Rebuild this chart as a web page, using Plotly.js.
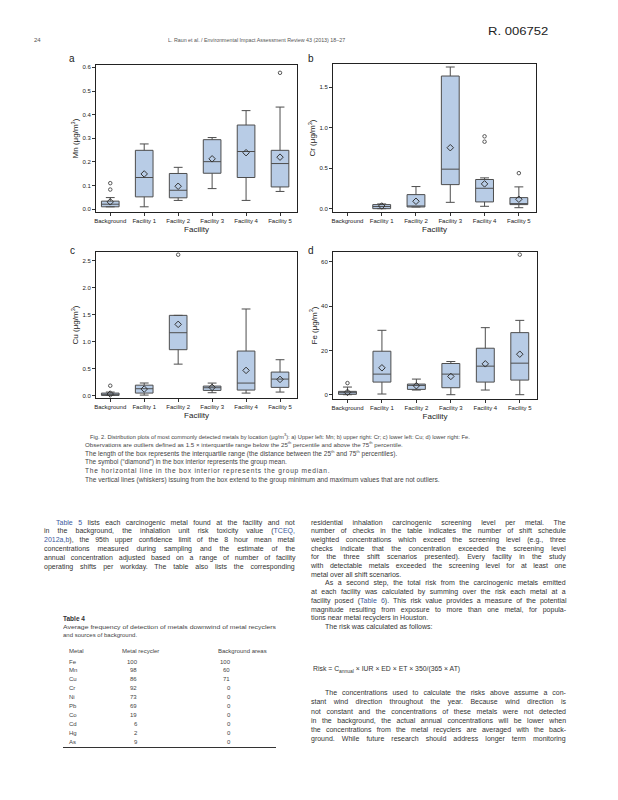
<!DOCTYPE html>
<html><head><meta charset="utf-8">
<script src="https://cdn.plot.ly/plotly-3.0.1.min.js"></script>
<style>
html,body{margin:0;padding:0;background:#fff;}
#page{position:relative;width:618px;height:800px;overflow:hidden;background:#fff;}
#chart{position:absolute;left:0;top:0;width:618px;height:800px;}
#txt{position:absolute;left:0;top:0;width:618px;height:800px;}
.t{position:absolute;white-space:nowrap;font-family:"Liberation Sans",Arial,sans-serif;color:#333;line-height:1.1;transform-origin:0 50%;}
.lk{color:#3d5a9e;}
.b{font-weight:bold;}
.sm{font-size:4px;}
.sb{font-size:5px;}
</style></head><body>
<div id="page"><div id="txt"></div><div id="chart"></div></div>
<script>
// ---------- data ----------
const categories = ['Background','Facility 1','Facility 2','Facility 3','Facility 4','Facility 5'];
const crCategories = ['Facility 1','Facility 2','Facility 3','Facility 4','Facility 5'];

// Mn (panel a)
const mnQ1   = [0.010, 0.052, 0.048, 0.152, 0.134, 0.094];
const mnMed  = [0.021, 0.134, 0.080, 0.201, 0.244, 0.193];
const mnQ3   = [0.034, 0.249, 0.151, 0.294, 0.356, 0.249];
const mnLo   = [0.010, 0.010, 0.037, 0.087, 0.037, 0.075];
const mnHi   = [0.049, 0.276, 0.177, 0.303, 0.417, 0.432];
const mnMean = [0.031, 0.149, 0.097, 0.213, 0.239, 0.220];
const mnOutX = ['Background','Background','Facility 5'];
const mnOutY = [0.110, 0.083, 0.577];

// Cr (panel b)
const crQ1   = [0.004, 0.025, 0.300, 0.087, 0.054];
const crMed  = [0.030, 0.030, 0.490, 0.255, 0.066];
const crQ3   = [0.054, 0.177, 1.636, 0.363, 0.140];
const crLo   = [0.004, 0.025, 0.082, 0.033, 0.016];
const crHi   = [0.062, 0.276, 1.747, 0.383, 0.272];
const crMean = [0.037, 0.095, 0.754, 0.309, 0.120];
const crOutX = ['Facility 4','Facility 4','Facility 5'];
const crOutY = [0.894, 0.828, 0.441];

// Cu (panel c)
const cuQ1   = [0.000, 0.043, 0.848, 0.093, 0.099, 0.149];
const cuMed  = [0.020, 0.124, 1.163, 0.142, 0.229, 0.303];
const cuQ3   = [0.043, 0.190, 1.485, 0.173, 0.823, 0.433];
const cuLo   = [0.000, 0.006, 0.580, 0.050, 0.043, 0.062];
const cuHi   = [0.062, 0.230, 1.485, 0.229, 1.603, 0.662];
const cuMean = [0.025, 0.118, 1.318, 0.149, 0.464, 0.297];
const cuOutX = ['Background','Facility 2'];
const cuOutY = [0.18, 2.61];

// Fe (panel d)
const feQ1   = [0.15, 5.7, 2.4, 3.15, 5.7, 6.6];
const feMed  = [0.9, 9.3, 4.2, 9.3, 12.9, 14.25];
const feQ3   = [1.5, 19.65, 4.8, 14.1, 21.0, 28.05];
const feLo   = [0.0, 0.3, 2.1, 0.0, 2.1, 0.0];
const feHi   = [3.45, 29.1, 7.05, 15.0, 30.3, 33.6];
const feMean = [1.05, 12.15, 4.05, 8.25, 13.95, 18.3];
const feOutX = ['Background','Facility 5'];
const feOutY = [5.25, 63.3];

// Table 4
const tblMetal    = ['Fe','Mn','Cu','Cr','Ni','Pb','Co','Cd','Hg','As'];
const tblRecycler = [100, 98, 86, 92, 73, 69, 19, 6, 2, 9];
const tblBackgr   = [100, 60, 71, 0, 0, 0, 0, 0, 0, 0];

// ---------- chart ----------
const FILL = '#b8cce6', EDGE = '#4d4d4d';
function panel(n, cats, q1, med, q3, lo, hi, mean, ox, oy){
  const xa = n===1?'x':'x'+n, ya = n===1?'y':'y'+n;
  return [
    {type:'box', x:cats, q1:q1, median:med, q3:q3, lowerfence:lo, upperfence:hi,
     xaxis:xa, yaxis:ya, fillcolor:FILL, line:{color:EDGE, width:1},
     whiskerwidth:0.5, width:0.52, boxpoints:false, hoverinfo:'skip', showlegend:false},
    {type:'scatter', mode:'markers', x:cats, y:mean, xaxis:xa, yaxis:ya,
     marker:{symbol:'diamond-open', size:5, color:'#333', line:{width:1}}, hoverinfo:'skip', showlegend:false},
    {type:'scatter', mode:'markers', x:ox, y:oy, xaxis:xa, yaxis:ya,
     marker:{symbol:'circle-open', size:3.5, color:'#555', line:{width:1}}, hoverinfo:'skip', showlegend:false}
  ];
}
const traces = [].concat(
  panel(1, categories, mnQ1, mnMed, mnQ3, mnLo, mnHi, mnMean, mnOutX, mnOutY),
  panel(2, crCategories, crQ1, crMed, crQ3, crLo, crHi, crMean, crOutX, crOutY),
  panel(3, categories, cuQ1, cuMed, cuQ3, cuLo, cuHi, cuMean, cuOutX, cuOutY),
  panel(4, categories, feQ1, feMed, feQ3, feLo, feHi, feMean, feOutX, feOutY)
);
const W=618, H=800;
function xax(l, r, anchor){
  return {domain:[l/W, r/W], anchor:anchor, type:'category', categoryorder:'array', categoryarray:categories,
    range:[-0.42,5.5], showline:true, mirror:true, linecolor:'#222', linewidth:1, ticks:'outside', ticklen:3,
    tickcolor:'#333', tickfont:{size:6, color:'#222'}, showgrid:false, zeroline:false,
    title:{text:'Facility', font:{size:8, color:'#222'}, standoff:3}};
}
function yax(t, b, anchor, range, dtick, fmt, title){
  return {domain:[1-b/H, 1-t/H], anchor:anchor, range:range, dtick:dtick, tickformat:fmt,
    showline:true, mirror:true, linecolor:'#222', linewidth:1, ticks:'outside', ticklen:3, tickcolor:'#333',
    tickfont:{size:6, color:'#222'}, showgrid:false, zeroline:false,
    title:{text:title, font:{size:8, color:'#222'}, standoff:2}};
}
const unit = ' (μg/m<sup>3</sup>)';
const layout = {
  width:W, height:H, margin:{l:0,r:0,t:0,b:0}, paper_bgcolor:'rgba(0,0,0,0)', plot_bgcolor:'rgba(0,0,0,0)',
  font:{family:'"Liberation Sans", Arial, sans-serif', color:'#222'}, showlegend:false, boxmode:'overlay',
  xaxis: xax(96, 297, 'y'),  yaxis: yax(65, 212, 'x',  [-0.012, 0.61], 0.1, '.1f', 'Mn'+unit),
  xaxis2:xax(333, 536, 'y2'), yaxis2:yax(64, 212, 'x2', [-0.037, 1.784], 0.5, '.1f', 'Cr'+unit),
  xaxis3:xax(96, 297, 'y3'), yaxis3:yax(252, 398, 'x3', [-0.048, 2.66], 0.5, '.1f', 'Cu'+unit),
  xaxis4:xax(333, 537, 'y4'), yaxis4:yax(252, 399, 'x4', [-1.95, 64.5], 20, 'd', 'Fe'+unit),
  annotations:[
    {text:'a', x:72/W, y:1-58/H}, {text:'b', x:311/W, y:1-58/H},
    {text:'c', x:72/W, y:1-251/H}, {text:'d', x:311/W, y:1-251/H}
  ].map(a=>Object.assign({xref:'paper', yref:'paper', showarrow:false, xanchor:'center', yanchor:'middle',
     font:{size:10, color:'#222'}}, a))
};
Plotly.newPlot('chart', traces, layout, {staticPlot:true, displayModeBar:false});

// ---------- page text ----------
const txt = document.getElementById('txt');
function place(x, y, w, mode, html, size, cls, color){
  const d = document.createElement('div');
  d.className = 't' + (cls ? ' '+cls : '');
  d.innerHTML = html; d.style.fontSize = size+'px';
  if (color) d.style.color = color;
  txt.appendChild(d);
  let nat = d.scrollWidth;
  if (mode === 'a') {
    const k = Math.max(0.85, Math.min(w/nat, 1.2));
    d.style.fontSize = (size*k) + 'px';
    nat = d.scrollWidth;
    const n = d.textContent.length;
    if (nat < w && n > 1) d.style.letterSpacing = ((w - nat)/n) + 'px';
    else if (nat > w) d.style.transform = 'scaleX(' + (w/nat) + ')';
  }
  const h = d.offsetHeight;
  d.style.top = (y - h/2) + 'px';
  let left = x;
  if (mode === 'j') {
    const sp = (d.textContent.match(/ /g) || []).length;
    if (nat < w && sp > 0) d.style.wordSpacing = ((w - nat)/sp) + 'px';
    else if (nat > w) d.style.transform = 'scaleX(' + (w/nat) + ')';
  } else if (mode === 'f') {
    d.style.transform = 'scaleX(' + (w/nat) + ')';
  } else if (mode === 'r') {
    left = x - nat;
  }
  d.style.left = left + 'px';
}
// header
place(488, 31, 60, 'f', 'R. 006752', 10, '', '#222');
place(34, 40, 7, 'f', '24', 6, '', '#555');
place(168, 40, 177, 'f', 'L. Raun et al. / Environmental Impact Assessment Review 43 (2013) 18–27', 5.5, '', '#555');

// figure caption
const capLines = [
  [90, 436.3, 380, 'Fig. 2. Distribution plots of most commonly detected metals by location (μg/m<sup class="sm">3</sup>): a) Upper left: Mn; b) upper right: Cr; c) lower left: Cu; d) lower right: Fe.'],
  [85, 444.7, 318, 'Observations are outliers defined as 1.5 × interquartile range below the 25<sup class="sm">th</sup> percentile and above the 75<sup class="sm">th</sup> percentile.'],
  [85, 453.3, 312, 'The length of the box represents the interquartile range (the distance between the 25<sup class="sm">th</sup> and 75<sup class="sm">th</sup> percentiles).'],
  [85, 461.6, 202, 'The symbol (“diamond”) in the box interior represents the group mean.'],
  [85, 470.2, 245, 'The horizontal line in the box interior represents the group median.'],
  [85, 479.0, 355, 'The vertical lines (whiskers) issuing from the box extend to the group minimum and maximum values that are not outliers.']
];
capLines.forEach(l => place(l[0], l[1], l[2], 'a', l[3], 5.5, '', '#444'));

// left column body
const leftLines = [
  [56, 239, 'j', '<span class="lk">Table 5</span> lists each carcinogenic metal found at the facility and not'],
  [44, 251, 'j', 'in the background, the inhalation unit risk toxicity value (<span class="lk">TCEQ,</span>'],
  [44, 251, 'j', '<span class="lk">2012a,b</span>), the 95th upper confidence limit of the 8 hour mean metal'],
  [44, 251, 'j', 'concentrations measured during sampling and the estimate of the'],
  [44, 251, 'j', 'annual concentration adjusted based on a range of number of facility'],
  [44, 251, 'j', 'operating shifts per workday. The table also lists the corresponding']
];
leftLines.forEach((l,i) => place(l[0], 522.5 + i*8.85, l[1], l[2], l[3], 7));

// right column body
const rightLines = [
  [311, 255, 'j', 'residential inhalation carcinogenic screening level per metal. The'],
  [311, 255, 'j', 'number of checks in the table indicates the number of shift schedule'],
  [311, 255, 'j', 'weighted concentrations which exceed the screening level (e.g., three'],
  [311, 255, 'j', 'checks indicate that the concentration exceeded the screening level'],
  [311, 255, 'j', 'for the three shift scenarios presented). Every facility in the study'],
  [311, 255, 'j', 'with detectable metals exceeded the screening level for at least one'],
  [311, 0, 'n', 'metal over all shift scenarios.'],
  [325, 241, 'j', 'As a second step, the total risk from the carcinogenic metals emitted'],
  [311, 255, 'j', 'at each facility was calculated by summing over the risk each metal at a'],
  [311, 255, 'j', 'facility posed (<span class="lk">Table 6</span>). This risk value provides a measure of the potential'],
  [311, 255, 'j', 'magnitude resulting from exposure to more than one metal, for popula-'],
  [311, 0, 'n', 'tions near metal recyclers in Houston.'],
  [325, 0, 'n', 'The risk was calculated as follows:']
];
rightLines.forEach((l,i) => place(l[0], 522.5 + i*8.7, l[1], l[2], l[3], 7));

place(313, 670, 147, 'f', 'Risk = C<sub class="sb">annual</sub> × IUR × ED × ET × 350/(365 × AT)', 7);

const lastLines = [
  [325, 241, 'j', 'The concentrations used to calculate the risks above assume a con-'],
  [311, 255, 'j', 'stant wind direction throughout the year. Because wind direction is'],
  [311, 255, 'j', 'not constant and the concentrations of these metals were not detected'],
  [311, 255, 'j', 'in the background, the actual annual concentrations will be lower when'],
  [311, 255, 'j', 'the concentrations from the metal recyclers are averaged with the back-'],
  [311, 255, 'j', 'ground. While future research should address longer term monitoring']
];
lastLines.forEach((l,i) => place(l[0], 693.3 + i*9.1, l[1], l[2], l[3], 7));

// Table 4
place(63, 618, 0, 'n', 'Table 4', 6.5, 'b', '#333');
place(63, 627.3, 213, 'f', 'Average frequency of detection of metals downwind of metal recyclers', 6, '', '#444');
place(63, 635.7, 0, 'n', 'and sources of background.', 6, '', '#444');
place(69, 651, 0, 'n', 'Metal', 6, '', '#444');
place(122, 651, 0, 'n', 'Metal recycler', 6, '', '#444');
place(218, 651, 0, 'n', 'Background areas', 6, '', '#444');
tblMetal.forEach((m,i) => {
  const y = 662 + i*8.9;
  place(69, y, 0, 'n', m, 6, '', '#444');
  place(137, y, 0, 'r', String(tblRecycler[i]), 6, '', '#444');
  place(230, y, 0, 'r', String(tblBackgr[i]), 6, '', '#444');
});
const rule = document.createElement('div');
rule.style.cssText = 'position:absolute;left:63px;top:746.5px;width:213px;height:1px;background:#333;';
txt.appendChild(rule);
</script>
</body></html>
